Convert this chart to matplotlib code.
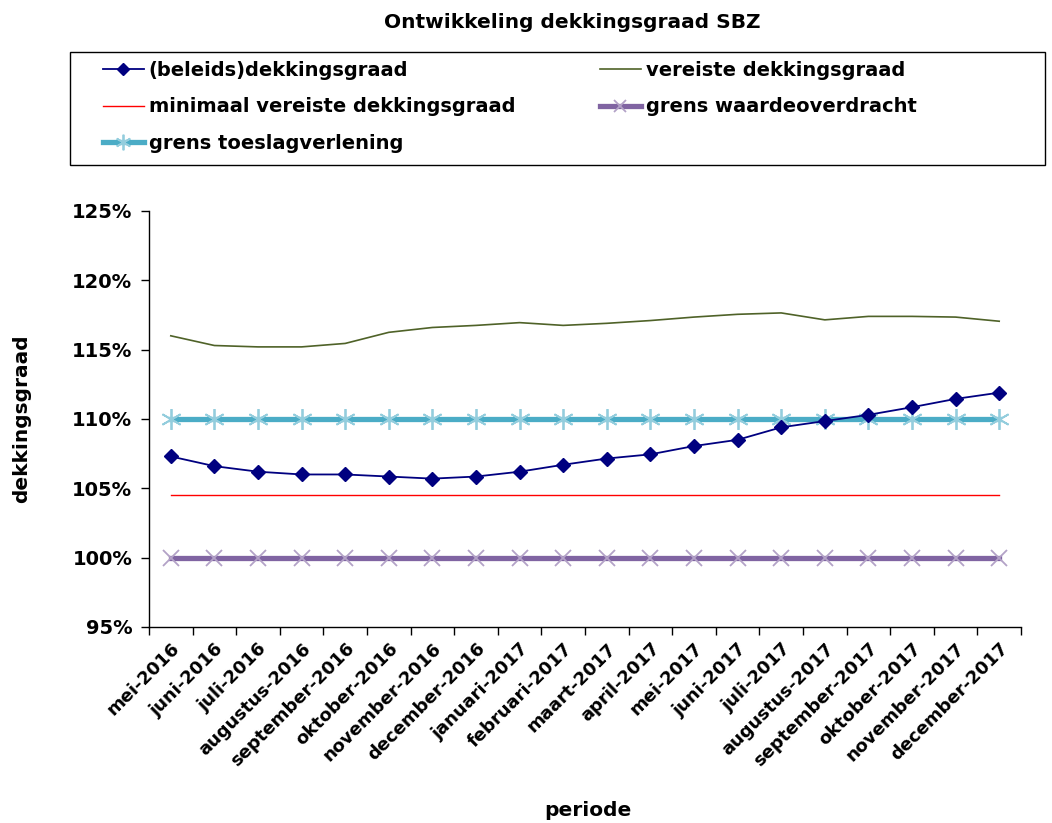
import matplotlib
matplotlib.use("Agg")
import matplotlib.pyplot as plt
from matplotlib.patches import Rectangle
from matplotlib.ticker import FixedLocator, FuncFormatter

plt.rcParams['font.family'] = ['DejaVu Sans']
plt.rcParams['font.weight'] = 'bold'

periods = ["mei-2016", "juni-2016", "juli-2016", "augustus-2016", "september-2016",
           "oktober-2016", "november-2016", "december-2016", "januari-2017", "februari-2017",
           "maart-2017", "april-2017", "mei-2017", "juni-2017", "juli-2017",
           "augustus-2017", "september-2017", "oktober-2017", "november-2017", "december-2017"]

beleids_dg = [107.3, 106.6, 106.2, 106.0, 106.0, 105.85, 105.7, 105.85, 106.2, 106.7,
              107.15, 107.45, 108.05, 108.5, 109.4, 109.85, 110.3, 110.85, 111.45, 111.9]
vereiste_dg = [116.0, 115.3, 115.2, 115.2, 115.45, 116.25, 116.6, 116.75, 116.95, 116.75,
               116.9, 117.1, 117.35, 117.55, 117.65, 117.15, 117.4, 117.4, 117.35, 117.05]
min_vereiste_dg = [104.5] * len(periods)
grens_waardeoverdracht = [100.0] * len(periods)
grens_toeslagverlening = [110.0] * len(periods)

W, H = 1052, 823
fig = plt.figure(figsize=(W / 100, H / 100), dpi=100)
ax = fig.add_axes([149 / W, 1 - 627 / H, (1021 - 149) / W, (627 - 211) / H])

x = list(range(len(periods)))

h_tv, = ax.plot(x, grens_toeslagverlening, color='#4bacc6', lw=3.8,
                marker=(6, 2, 0), ms=15, mec='#93cddd', mew=1.3, zorder=2,
                label='grens toeslagverlening')
h_wo, = ax.plot(x, grens_waardeoverdracht, color='#8064a2', lw=3.8,
                marker='x', ms=11, mec='#b3a2c7', mew=1.3, zorder=2,
                label='grens waardeoverdracht')
h_min, = ax.plot(x, min_vereiste_dg, color='#ff0000', lw=1.0, zorder=3,
                 label='minimaal vereiste dekkingsgraad')
h_ver, = ax.plot(x, vereiste_dg, color='#4f6228', lw=1.2, zorder=3,
                 label='vereiste dekkingsgraad')
h_bel, = ax.plot(x, beleids_dg, color='#000080', lw=1.3, marker='D', ms=7.5,
                 mfc='#000080', mec='#000080', zorder=4,
                 label='(beleids)dekkingsgraad')

ax.set_xlim(-0.5, len(periods) - 0.5)
ax.set_ylim(95, 125)
ax.set_yticks([95, 100, 105, 110, 115, 120, 125])
ax.yaxis.set_major_formatter(FuncFormatter(lambda v, p: f"{v:.0f}%"))

ax.xaxis.set_major_locator(FixedLocator([i - 0.5 for i in range(len(periods) + 1)]))
ax.xaxis.set_major_formatter(FuncFormatter(lambda v, p: ""))
ax.set_xticks(x, minor=True)
ax.set_xticklabels(periods, minor=True, rotation=45, ha='right', rotation_mode='anchor',
                   fontsize=13, fontweight='bold')
ax.tick_params(axis='x', which='minor', length=0, pad=9)
ax.tick_params(axis='x', which='major', length=6, direction='out', width=1)
ax.tick_params(axis='y', length=6, direction='out', width=1, labelsize=14, pad=6)

for s in ('top', 'right'):
    ax.spines[s].set_visible(False)
for s in ('left', 'bottom'):
    ax.spines[s].set_linewidth(1.0)

ax.set_ylabel('dekkingsgraad', fontsize=14.5, fontweight='bold')
ax.yaxis.set_label_coords((31 - 149) / 872, 0.5)
fig.text(588 / W, 1 - 811 / H, 'periode', ha='center', va='center',
         fontsize=14.5, fontweight='bold')

fig.text(572 / W, 1 - 22 / H, 'Ontwikkeling dekkingsgraad SBZ', ha='center',
         va='center', fontsize=14.5, fontweight='bold')

# legend box with two columns of entries
fig.add_artist(Rectangle((70 / W, 1 - 165 / H), (1045 - 70) / W, (165 - 52) / H,
                         transform=fig.transFigure, fill=False, edgecolor='black',
                         lw=1.0))
leg_kw = dict(loc='upper left', frameon=False, prop={'weight': 'bold', 'size': 14},
              handlelength=2.1, handletextpad=0.25, labelspacing=0.9,
              borderpad=0, borderaxespad=0, markerscale=0.75)
leg1 = fig.legend(handles=[h_bel, h_min, h_tv],
                  bbox_to_anchor=(103 / W, 1 - 61 / H), **leg_kw)
leg2 = fig.legend(handles=[h_ver, h_wo],
                  bbox_to_anchor=(600 / W, 1 - 61 / H), **leg_kw)

fig.savefig('out.png', dpi=100)
